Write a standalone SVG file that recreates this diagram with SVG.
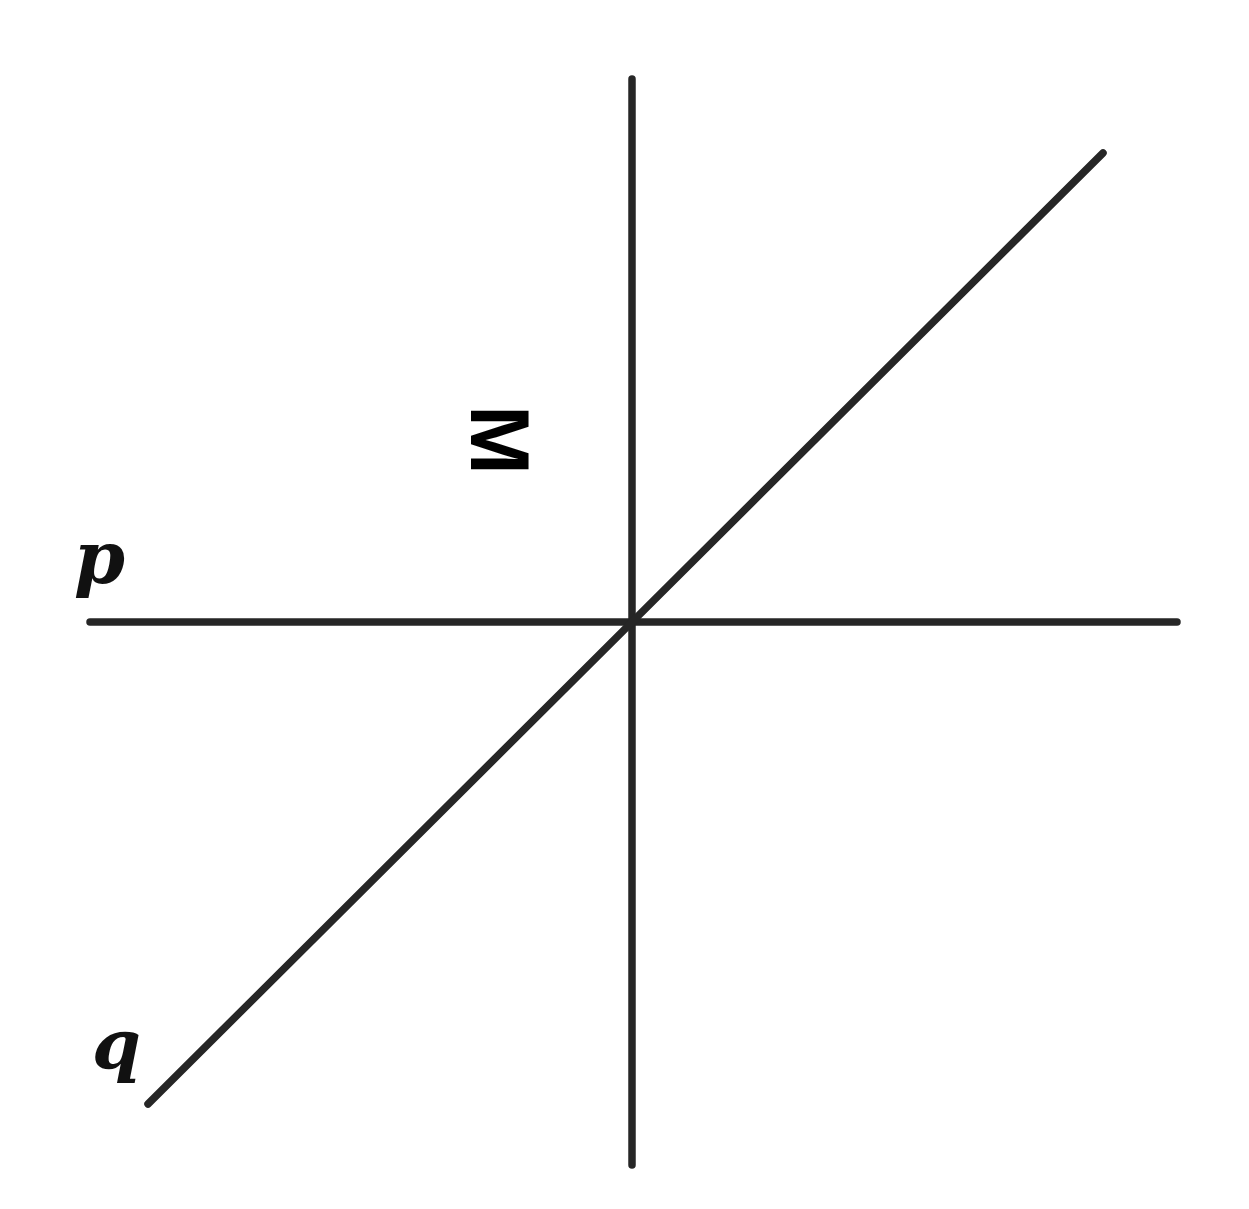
<svg xmlns="http://www.w3.org/2000/svg" width="1249" height="1209" viewBox="0 0 1249 1209">
<style>
.ln{stroke:#262626;stroke-width:7.5;stroke-linecap:round;fill:none}
.var{font-family:"DejaVu Serif","Liberation Serif",serif;font-style:italic;font-weight:bold;fill:#111}
.lab{font-family:"Liberation Sans",sans-serif;font-weight:bold;fill:#000}
</style>
<rect width="1249" height="1209" fill="#fff"/>
<g id="connectors">
<line class="ln" x1="632" y1="79" x2="632" y2="1165"/>
<line class="ln" x1="90" y1="622" x2="1177" y2="622"/>
<line class="ln" x1="148" y1="1104" x2="1103" y2="153"/>
</g>
<g id="label-p"><text class="var" x="74" y="583" font-size="73">p</text></g>
<g id="label-q"><text class="var" x="92" y="1069" font-size="70">q</text></g>
<g id="label-M"><text class="lab" transform="translate(502,440) rotate(90)" x="0" y="31" font-size="84" text-anchor="middle">M</text></g>
</svg>
